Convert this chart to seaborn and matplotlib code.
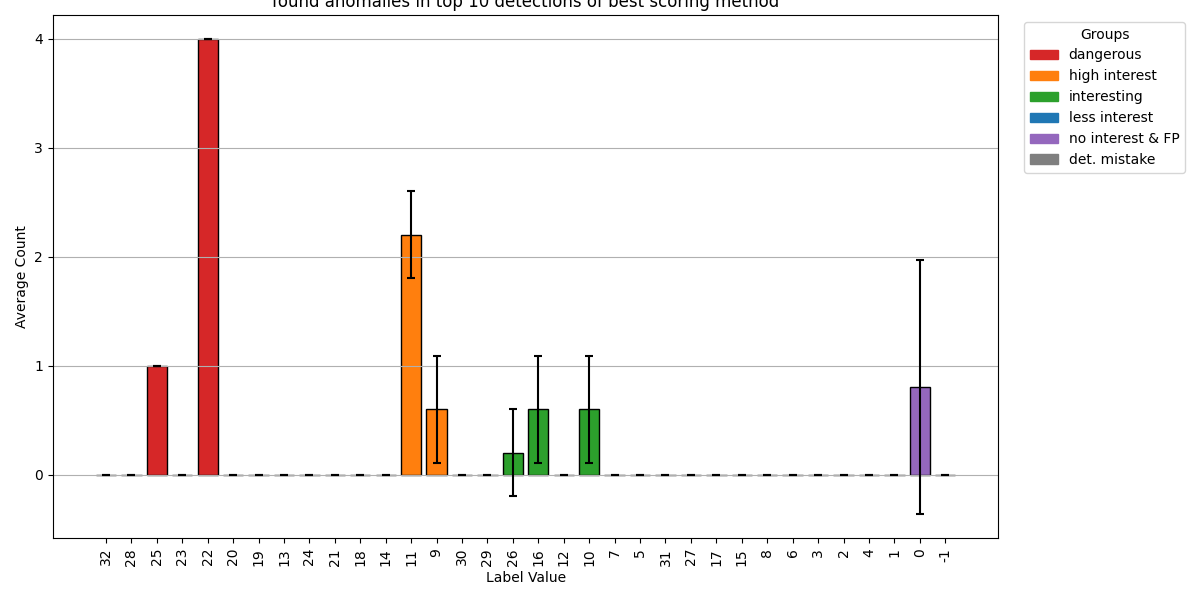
import numpy as np
import pandas as pd
import matplotlib
matplotlib.use("Agg")
import matplotlib.pyplot as plt
import seaborn as sns
from matplotlib.patches import Patch

# --- данные ---
labels = ["32", "28", "25", "23", "22", "20", "19", "13", "24", "21", "18", "14",
          "11", "9", "30", "29", "26", "16", "12", "10", "7", "5", "31", "27",
          "17", "15", "8", "6", "3", "2", "4", "1", "0", "-1"]
mean_counts = [0, 0, 1.0, 0, 4.0, 0, 0, 0, 0, 0, 0, 0,
               2.2, 0.6, 0, 0, 0.2, 0.6, 0, 0.6, 0, 0, 0, 0,
               0, 0, 0, 0, 0, 0, 0, 0, 0.8, 0]
std_counts = [0, 0, 0, 0, 0, 0, 0, 0, 0, 0, 0, 0,
              0.4, 0.49, 0, 0, 0.4, 0.49, 0, 0.49, 0, 0, 0, 0,
              0, 0, 0, 0, 0, 0, 0, 0, 1.166, 0]
groups = (["dangerous"] * 5 + ["high interest"] * 9 + ["interesting"] * 6
          + ["less interest"] * 12 + ["no interest & FP"] + ["det. mistake"])

group_names = ["dangerous", "high interest", "interesting", "less interest",
               "no interest & FP", "det. mistake"]
group_colors = ["#d62728", "#ff7f0e", "#2ca02c", "#1f77b4", "#9467bd", "#7f7f7f"]
palette = dict(zip(group_names, group_colors))

df = pd.DataFrame({"label": labels, "mean": mean_counts, "std": std_counts, "group": groups})

fig, ax = plt.subplots(figsize=(12, 6), dpi=100)
sns.barplot(data=df, x="label", y="mean", hue="group", order=labels,
            hue_order=group_names, palette=palette, dodge=False, width=0.8,
            saturation=1, edgecolor="black", linewidth=1, errorbar=None,
            legend=False, ax=ax)

pos = np.arange(len(labels))
ax.errorbar(pos, df["mean"], yerr=df["std"], fmt="none", ecolor="black",
            elinewidth=1.5, capsize=3, capthick=1.5)

# такие же поля по x, как у plt.bar
n = len(labels)
span = (n - 1) + 0.8
ax.set_xlim(-0.4 - 0.05 * span, n - 1 + 0.4 + 0.05 * span)
ax.set_xticks(pos)
ax.set_xticklabels(labels, rotation=90)
ax.grid(axis="y")

ax.set_title("found anomalies in top 10 detections of best scoring method")
ax.set_xlabel("Label Value")
ax.set_ylabel("Average Count")

handles = [Patch(color=c, label=g) for g, c in zip(group_names, group_colors)]
ax.legend(handles=handles, title="Groups", loc="upper left", bbox_to_anchor=(1.02, 1))

plt.subplots_adjust(left=0.044, right=0.832, top=0.975, bottom=0.103)
plt.savefig("out.png")
